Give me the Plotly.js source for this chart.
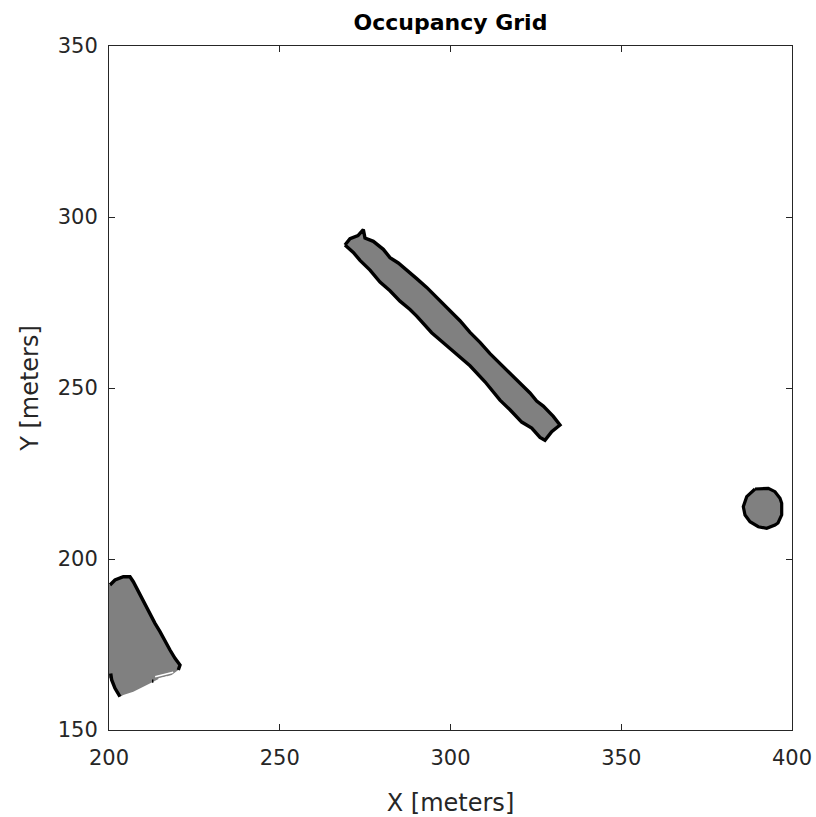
<!DOCTYPE html>
<html>
<head>
<meta charset="utf-8">
<script src="https://cdn.plot.ly/plotly-3.0.1.min.js"></script>
<style>html,body{margin:0;padding:0;background:#fff;}#chart{width:816px;height:817px;}</style>
</head>
<body>
<div id="chart"></div>
<script>
// Axis ticks
const xTicks = [200, 250, 300, 350, 400];
const yTicks = [150, 200, 250, 300, 350];

// Diagonal wall obstacle outline (meters)
const barX = [269.1, 271.54, 273.50, 276.43, 279.36, 282.28, 285.21, 288.14, 290.10, 294.49, 297.89, 301.81, 305.71, 310.10, 314.49, 317.42, 320.85, 323.78, 326.21, 327.67, 329.63, 332.06, 330.10, 327.17, 325.24, 323.28, 320.35, 317.42, 314.49, 311.57, 308.64, 305.71, 302.78, 299.85, 296.93, 293.03, 290.10, 287.17, 284.71, 282.28, 280.32, 277.40, 274.96, 274.47, 272.91, 270.57, 269.1];
const barY = [291.8, 289.65, 287.32, 284.47, 280.98, 278.42, 275.40, 272.97, 271.01, 266.16, 263.23, 259.81, 256.49, 251.82, 246.46, 243.63, 240.04, 238.28, 235.56, 234.70, 237.22, 239.18, 241.71, 244.73, 246.19, 248.55, 251.37, 254.09, 257.22, 260.05, 263.34, 266.26, 269.68, 272.61, 275.53, 279.42, 281.98, 284.50, 286.56, 288.12, 290.55, 292.88, 293.87, 296.30, 294.54, 293.67, 291.8];

// Bottom-left block outline (meters)
const blockX = [199, 200.29, 201.76, 204.19, 206.15, 207.12, 208.11, 209.58, 210.54, 212.01, 213.47, 214.93, 216.40, 217.86, 219.33, 220.79, 220.29, 218.36, 214.93, 212.97, 210.04, 207.12, 204.19, 203.22, 201.76, 200.79, 199, 199];
const blockY = [192.40, 192.40, 193.86, 194.82, 194.82, 193.36, 191.43, 188.98, 187.05, 184.12, 181.20, 178.74, 175.82, 173.39, 170.96, 169.01, 167.54, 166.08, 165.12, 164.12, 162.66, 161.20, 160.23, 159.74, 162.19, 164.62, 166.08, 192.40];
// Occupied (black) edge cells of the block
const blockEdgeX = [200.29, 201.76, 204.19, 206.15, 207.12, 208.11, 209.58, 210.54, 212.01, 213.47, 214.93, 216.40, 217.86, 219.33, 220.79, 220.29, null, 200.5, 200.79, 201.76, 203.22, null, 212.6, 213.0];
const blockEdgeY = [192.40, 193.86, 194.82, 194.82, 193.36, 191.43, 188.98, 187.05, 184.12, 181.20, 178.74, 175.82, 173.39, 170.96, 169.01, 167.54, null, 166.5, 164.62, 162.19, 159.74, null, 164.3, 164.3];
// Free (white) streaks inside the block's lower edge
const blockFreeX = [213.5, 216.5, 218.8, null, 214.5, 217.0];
const blockFreeY = [165.6, 166.3, 166.9, null, 164.9, 165.5];

// Round obstacle outline (meters)
const discX = [389.17, 393.06, 395.02, 396.49, 396.98, 396.98, 395.90, 395.02, 392.59, 390.13, 387.70, 386.24, 385.74, 386.74, 389.17];
const discY = [220.47, 220.67, 219.68, 217.75, 216.29, 212.87, 210.53, 209.94, 208.98, 209.44, 210.91, 212.87, 215.29, 218.22, 220.47];

const GRAY = 'rgb(128,128,128)';
const INK = 'rgb(38,38,38)';
const FONT = 'DejaVu Sans, Verdana, sans-serif';

const traces = [
  {x: barX, y: barY, type: 'scatter', mode: 'lines', fill: 'toself', fillcolor: GRAY,
   line: {color: '#000', width: 3.4}, hoverinfo: 'skip'},
  {x: blockX, y: blockY, type: 'scatter', mode: 'lines', fill: 'toself', fillcolor: GRAY,
   line: {color: GRAY, width: 0}, hoverinfo: 'skip'},
  {x: blockFreeX, y: blockFreeY, type: 'scatter', mode: 'lines', connectgaps: false,
   line: {color: '#fff', width: 1.5}, hoverinfo: 'skip'},
  {x: blockEdgeX, y: blockEdgeY, type: 'scatter', mode: 'lines', connectgaps: false,
   line: {color: '#000', width: 3.4}, hoverinfo: 'skip'},
  {x: discX, y: discY, type: 'scatter', mode: 'lines', fill: 'toself', fillcolor: GRAY,
   line: {color: '#000', width: 3.2}, hoverinfo: 'skip'}
];

const axisCommon = {
  showgrid: false, zeroline: false, showline: true, mirror: 'ticks',
  linecolor: INK, linewidth: 1, ticks: 'inside', ticklen: 6, tickcolor: INK,
  tickfont: {family: FONT, size: 21, color: INK},
  fixedrange: true
};

const layout = {
  width: 816, height: 817,
  margin: {l: 109, r: 24, t: 46, b: 87},
  paper_bgcolor: '#fff', plot_bgcolor: '#fff',
  showlegend: false,
  title: {text: '<b>Occupancy Grid</b>', x: 0.552, xanchor: 'center', y: 0.973, yanchor: 'middle',
          font: {family: FONT, size: 22, color: '#000'}},
  xaxis: Object.assign({}, axisCommon, {
    range: [200, 400], tickvals: xTicks, ticktext: xTicks.map(String),
    ticklabelstandoff: 9,
    title: {text: 'X [meters]', standoff: 24, font: {family: FONT, size: 24, color: INK}}
  }),
  yaxis: Object.assign({}, axisCommon, {
    range: [150, 350], tickvals: yTicks, ticktext: yTicks.map(String),
    ticklabelstandoff: 6,
    title: {text: 'Y [meters]', standoff: 12, font: {family: FONT, size: 24, color: INK}}
  })
};

Plotly.newPlot('chart', traces, layout, {staticPlot: true, displayModeBar: false});
</script>
</body>
</html>
